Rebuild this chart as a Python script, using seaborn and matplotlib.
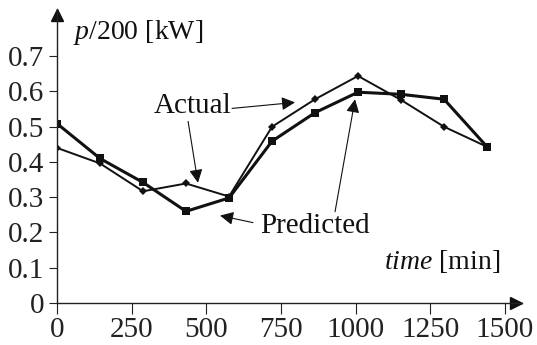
import matplotlib
matplotlib.use("Agg")
import matplotlib.pyplot as plt
import seaborn as sns
import pandas as pd

# donnees (pas de 144 min = 24 h / 10)
temps = [0, 144, 288, 432, 576, 720, 864, 1008, 1152, 1296, 1440]
actual = [0.44, 0.396, 0.317, 0.339, 0.302, 0.50, 0.578, 0.644, 0.576, 0.50, 0.443]
predicted = [0.509, 0.41, 0.342, 0.26, 0.298, 0.459, 0.54, 0.598, 0.592, 0.578, 0.443]
yticks = [0, 0.1, 0.2, 0.3, 0.4, 0.5, 0.6, 0.7]
xticks = [0, 250, 500, 750, 1000, 1250, 1500]

df = pd.DataFrame({"time": temps, "Actual": actual, "Predicted": predicted})

sns.set_style("ticks")
plt.rcParams["font.family"] = ["Liberation Serif", "DejaVu Serif"]
plt.rcParams["mathtext.fontset"] = "custom"
plt.rcParams["mathtext.rm"] = "Liberation Serif"
plt.rcParams["mathtext.it"] = "Liberation Serif:italic"

fig = plt.figure(figsize=(5.37, 3.45), dpi=100)
ax = fig.add_axes([57 / 537, 42 / 345, 465 / 537, 294 / 345])

sns.lineplot(data=df, x="time", y="Predicted", ax=ax, color="#111111",
             linewidth=2.2, marker="s", markersize=6, markeredgewidth=0)
sns.lineplot(data=df, x="time", y="Actual", ax=ax, color="#111111",
             linewidth=1.4, marker="D", markersize=4, markeredgewidth=0)

ax.set_xlim(0, 1557)
ax.set_ylim(0, 0.834)
ax.set_xticks(xticks)
ax.set_yticks(yticks)
ax.set_yticklabels(["0", "0.1", "0.2", "0.3", "0.4", "0.5", "0.6", "0.7"])
ax.tick_params(axis="both", labelsize=21, colors="#222222")
ax.tick_params(axis="x", length=8, pad=2)
ax.tick_params(axis="y", length=6, pad=3)
ax.set_xlabel("")
ax.set_ylabel("")

for s in ["top", "right"]:
    ax.spines[s].set_visible(False)
for s in ["left", "bottom"]:
    ax.spines[s].set_color("#222222")
    ax.spines[s].set_linewidth(1.0)

# fleches des axes (pointe au bout de l'axe)
ax.plot(0.988, 0, ">", color="#111111", markersize=8, transform=ax.transAxes, clip_on=False)
ax.plot(0, 0.981, "^", color="#111111", markersize=8, transform=ax.transAxes, clip_on=False)

ax.text(54, 0.748, r"$\it{p}$/200 [kW]", fontsize=20, ha="left", va="baseline", color="#111111")
ax.text(1485, 0.08, r"$\it{time}$ [min]", fontsize=20, ha="right", va="bottom", color="#111111")

fleche = dict(arrowstyle="-|>", color="#111111", lw=0.8, mutation_scale=20, shrinkA=0, shrinkB=0)
ax.text(454, 0.56, "Actual", fontsize=21, ha="center", va="center", color="#111111")
ax.annotate("", xy=(472, 0.341), xytext=(439, 0.515), arrowprops=fleche)
ax.annotate("", xy=(797, 0.569), xytext=(586, 0.552), arrowprops=fleche)
ax.text(864, 0.219, "Predicted", fontsize=21, ha="center", va="center", color="#111111")
ax.annotate("", xy=(546, 0.248), xytext=(656, 0.228), arrowprops=fleche)
ax.annotate("", xy=(998, 0.578), xytext=(931, 0.259), arrowprops=fleche)

fig.savefig("out.png", dpi=100)
